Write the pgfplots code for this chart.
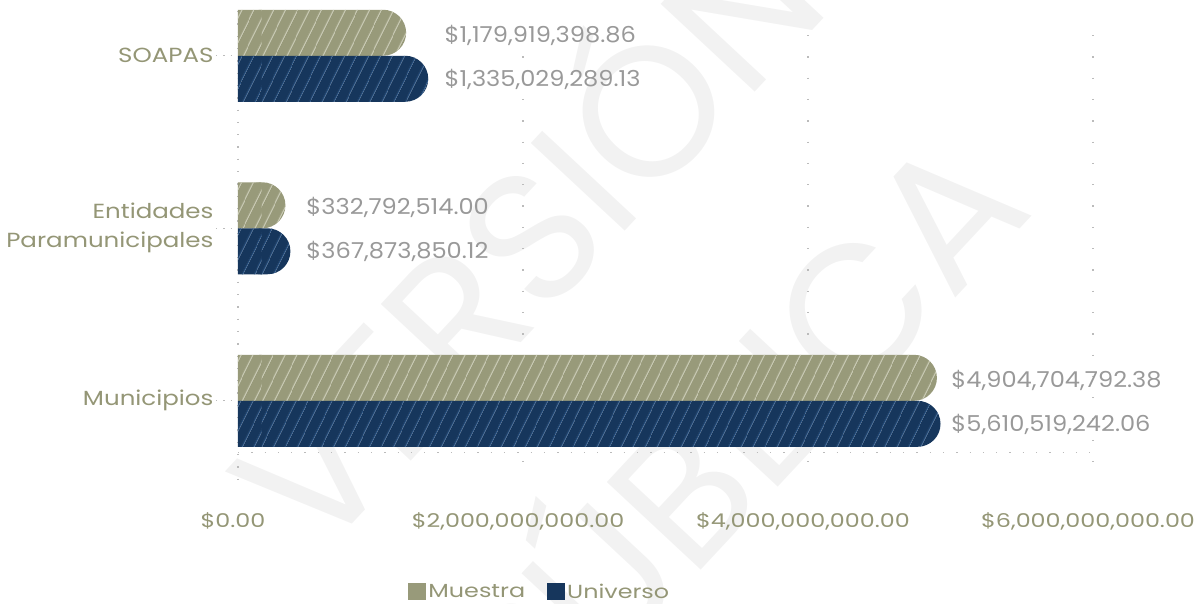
\documentclass[border=0pt]{standalone}
\usepackage{pgfplots}
\pgfplotsset{compat=1.18}
\usetikzlibrary{patterns.meta}
\usepackage{fontspec}
\setmainfont{Poppins}
\newfontfamily\widefont{Poppins}[FakeStretch=1.2]
\newfontfamily\tickfont{Poppins}[FakeStretch=1.26]
\newfontfamily\valfont{Poppins}[FakeStretch=1.1]
\definecolor{mOlive}{HTML}{989A7A}
\definecolor{mOliveHatch}{HTML}{CACBB4}
\definecolor{mNavy}{HTML}{16365C}
\definecolor{mNavyHatch}{HTML}{2F5A8C}
\definecolor{mLabel}{HTML}{999999}
\definecolor{mGrid}{HTML}{BBBBBB}
\definecolor{mText}{HTML}{949676}
\tikzset{
  hatchO/.style={postaction={pattern={Lines[angle=64,distance=10bp,line width=0.9bp]}, pattern color=mOliveHatch}},
  hatchN/.style={postaction={pattern={Lines[angle=64,distance=10bp,line width=0.9bp]}, pattern color=mNavyHatch}},
  gridl/.style={draw=mGrid, line width=1.3bp, dash pattern=on 1.3bp off 20bp},
}
\begin{document}
\begin{tikzpicture}
\useasboundingbox (-238bp,-129bp) rectangle (959bp,475bp);
\node[rotate=47, text=black!5, font=\fontsize{185}{288}\selectfont, align=center] at (380bp,150bp) {VERSIÓN\\PÚBLICA};
\begin{axis}[
  at={(0,0)}, anchor=south west,
  scale only axis, width=855bp, height=471bp,
  clip mode=individual,
  xbar, bar width=46bp,
  xmin=0, xmax=6e9, ymin=-0.43, ymax=2.3,
  scaled x ticks=false,
  axis lines*=left,
  x axis line style={draw=none},
  y axis line style={draw=none},
  ytick={0,1,2},
  yticklabels={Municipios,{Entidades\\Paramunicipales},SOAPAS},
  yticklabel style={align=right, text=mText, font=\widefont\fontsize{20.5}{29}\selectfont, xshift=1bp},
  tick align=outside,
  major tick length=22bp,
  y tick style={draw=mGrid, line width=1.3bp, dash pattern=on 1.3bp off 6bp},
  x tick style={draw=none},
  xtick={0,2e9,4e9,6e9},
  xticklabels={\$0.00,{\$2,000,000,000.00},{\$4,000,000,000.00},{\$6,000,000,000.00}},
  xticklabel style={text=mText, font=\tickfont\fontsize{19}{22}\selectfont, yshift=-12bp, xshift=-5bp},
  legend style={at={(0.353,-0.248)}, anchor=center, draw=none, fill=none,
    legend columns=2, font=\tickfont\fontsize{19}{22}\selectfont, text=mText,
    /tikz/every even column/.append style={column sep=20bp}},
  legend image code/.code={\fill[#1, draw=none] (0bp,-8bp) rectangle (18bp,9bp);},
]
\addlegendimage{fill=mOlive}
\addlegendentry{Muestra}
\addlegendimage{fill=mNavy}
\addlegendentry{Universo}

% dotted grid and axis lines
\draw[gridl, dash pattern=on 1.3bp off 11bp] (axis cs:0,2.33) -- (axis cs:0,-0.52);
\draw[gridl] (axis cs:2e9,2.12) -- (axis cs:2e9,-0.43);
\draw[gridl] (axis cs:4e9,2.12) -- (axis cs:4e9,-0.43);
\draw[gridl] (axis cs:6e9,2.12) -- (axis cs:6e9,-0.43);
\draw[gridl, dash pattern=on 1.3bp off 12bp] (axis cs:0,-0.3) -- (axis cs:5.98e9,-0.3);

% bars, rounded right ends
\addplot[fill=mOlive, draw=none, rounded corners=23bp, bar shift=23bp, hatchO, forget plot]
  coordinates {(4904704792.38,0) (332792514.00,1) (1179919398.86,2)};
\addplot[fill=mNavy, draw=none, rounded corners=23bp, bar shift=-23bp, hatchN, forget plot]
  coordinates {(4930000000,0) (367873850.12,1) (1335029289.13,2)};
% square left ends of the bars
\addplot[fill=mOlive, draw=none, bar shift=23bp, hatchO, forget plot]
  coordinates {(0.165e9,0) (0.165e9,1) (0.165e9,2)};
\addplot[fill=mNavy, draw=none, bar shift=-23bp, hatchN, forget plot]
  coordinates {(0.165e9,0) (0.165e9,1) (0.165e9,2)};

\begin{scope}[every node/.style={anchor=west, text=mLabel, font=\valfont\fontsize{22}{24}\selectfont}]
\node at (axis cs:1.4246e9,2.12) {\$1,179,919,398.86};
\node at (axis cs:1.4246e9,1.865) {\$1,335,029,289.13};
\node at (axis cs:0.456e9,1.12) {\$332,792,514.00};
\node at (axis cs:0.456e9,0.865) {\$367,873,850.12};
\node at (axis cs:4.982e9,0.12) {\$4,904,704,792.38};
\node at (axis cs:4.982e9,-0.135) {\$5,610,519,242.06};
\end{scope}
\end{axis}
\end{tikzpicture}
\end{document}
